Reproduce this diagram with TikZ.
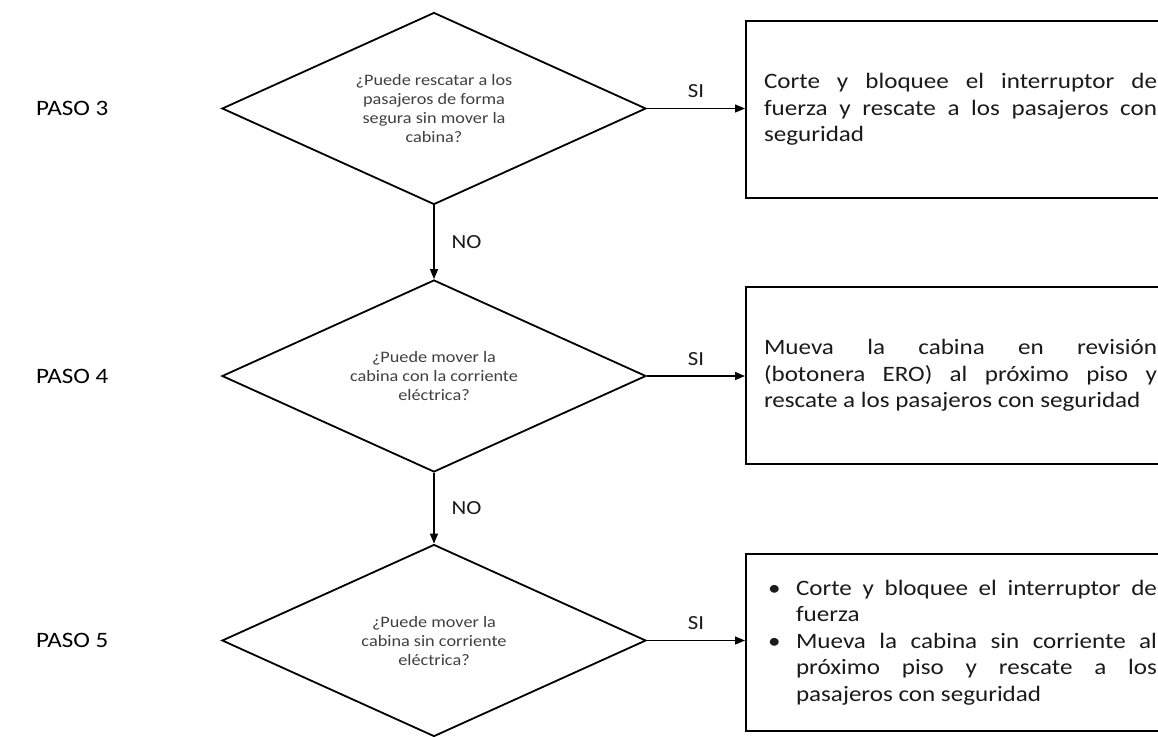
\documentclass[tikz,border=0pt]{standalone}
\usepackage{fontspec}
\setmainfont[FakeStretch=1.14]{Carlito}
\usetikzlibrary{arrows.meta}
\usetikzlibrary{positioning}
\usetikzlibrary{shapes.geometric}
\hyphenpenalty=10000
\exhyphenpenalty=10000
\definecolor{rescFg}{HTML}{1a1a1a}
\definecolor{rescQuestion}{HTML}{404040}
\newcommand{\rescitem}[1]{\noindent\hangindent=32pt\hangafter=1%
  \makebox[32pt][l]{\hspace{4pt}\textbullet}#1\par}
\tikzset{
  resc decision/.style={
    diamond,
    aspect=2.2,
    draw=black,
    line width=1.8pt,
    minimum width=424pt,
    minimum height=192pt,
    inner sep=0pt,
    text=rescQuestion,
    align=center,
    font=\fontsize{16}{19}\selectfont,
  },
}
\tikzset{
  resc action/.style={
    rectangle,
    draw=black,
    line width=2pt,
    minimum height=177pt,
    text width=393pt,
    inner xsep=18pt,
    align=justify,
    text=rescFg,
    anchor=west,
    font=\fontsize{22}{26.5}\selectfont,
  },
}
\tikzset{
  resc step/.style={
    anchor=west,
    text=black,
    inner sep=0pt,
    font=\fontsize{22}{26}\selectfont,
  },
}
\tikzset{
  resc flow/.style={
    -{Triangle[length=10pt,width=8pt]},
    draw=black,
    line width=1.3pt,
  },
}
\tikzset{
  resc label/.style={
    inner sep=2pt,
    text=rescFg,
    font=\fontsize{20}{24}\selectfont,
  },
}
\begin{document}
\begin{tikzpicture}[x=1pt, y=-1pt]
  \useasboundingbox (0,0) rectangle (1158,736);

  % =========================================================================
  % Decisions (one per step)
  % =========================================================================
  \node[resc decision] (q3) at (434, 108.5)
    {¿Puede rescatar a los\\pasajeros de forma\\segura sin mover la\\cabina?};
  \node[resc decision] (q4) at (434, 376)
    {¿Puede mover la\\cabina con la corriente\\eléctrica?};
  \node[resc decision] (q5) at (434, 640.5)
    {¿Puede mover la\\cabina sin corriente\\eléctrica?};

  % =========================================================================
  % Step labels on the left
  % =========================================================================
  \node[resc step] (paso3) at (36, 108.5) {PASO 3};
  \node[resc step] (paso4) at (36, 376) {PASO 4};
  \node[resc step] (paso5) at (36, 640.5) {PASO 5};

  % =========================================================================
  % Actions on the right
  % =========================================================================
  \node[resc action] (a3) at (745, 109.5)
    {Corte y bloquee el interruptor de\linebreak fuerza y rescate a los pasajeros con\linebreak seguridad};
  \node[resc action] (a4) at (745, 375.5)
    {Mueva la cabina en revisión\linebreak (botonera ERO) al próximo piso y\linebreak rescate a los pasajeros con seguridad};
  \node[resc action] (a5) at (745, 642.5)
    {\rescitem{Corte y bloquee el interruptor de\linebreak fuerza}%
     \rescitem{Mueva la cabina sin corriente al\linebreak próximo piso y rescate a los\linebreak pasajeros con seguridad}};

  % =========================================================================
  % SI branches
  % =========================================================================
  \draw[resc flow] (q3.east) -- node[resc label, above=8pt]{SI} (a3.west |- q3.east);
  \draw[resc flow] (q4.east) -- node[resc label, above=8pt]{SI} (a4.west |- q4.east);
  \draw[resc flow] (q5.east) -- node[resc label, above=8pt]{SI} (a5.west |- q5.east);

  % =========================================================================
  % NO branches
  % =========================================================================
  \draw[resc flow] (q3.south) -- node[resc label, right=15pt]{NO} (q4.north);
  \draw[resc flow] (q4.south) -- node[resc label, right=15pt]{NO} (q5.north);

\end{tikzpicture}
\end{document}
